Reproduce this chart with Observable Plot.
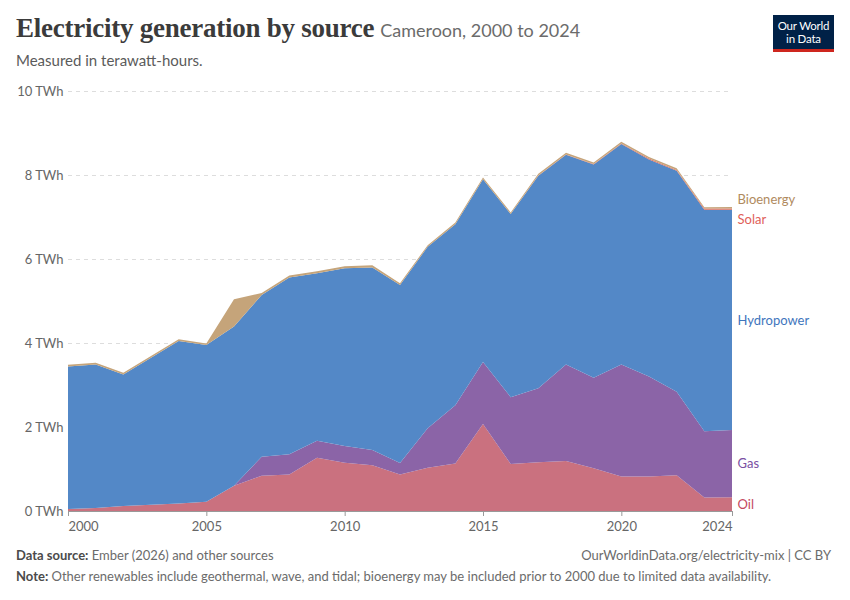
<!DOCTYPE html>
<html>
<head>
<meta charset="utf-8">
<script src="https://cdn.jsdelivr.net/npm/d3@7"></script>
<script src="https://cdn.jsdelivr.net/npm/@observablehq/plot@0.6"></script>
<style>
  html, body { margin: 0; padding: 0; background: #fff; }
  #wrap { position: relative; width: 850px; height: 600px; font-family: Lato, "Open Sans", sans-serif; overflow: hidden; }
  .title { position: absolute; left: 16px; top: 13px; white-space: nowrap; color: #3b3b3b; }
  .title .main { font-family: "Liberation Serif", "DejaVu Serif", serif; font-weight: bold; font-size: 27px; letter-spacing: -0.25px; }
  .title .sub { font-family: Lato, sans-serif; font-size: 18px; color: #6b6b6b; margin-left: 6px; }
  .subtitle { position: absolute; left: 16px; top: 51px; font-size: 15px; color: #5b5b5b; }
  .logo { position: absolute; left: 773px; top: 15px; width: 61px; height: 37px; background: #002147; color: #fff; font-size: 11.5px; line-height: 13px; text-align: center; box-sizing: border-box; padding-top: 4px; border-bottom: 3px solid #ce261e; letter-spacing: -0.2px; }
  #chart { position: absolute; left: 0; top: 80px; }
  .foot { position: absolute; font-size: 13px; color: #6b6b6b; white-space: nowrap; }
  .foot b { color: #4b4b4b; font-weight: bold; }
</style>
</head>
<body>
<div id="wrap">
  <div class="title"><span class="main">Electricity generation by source</span><span class="sub">Cameroon, 2000 to 2024</span></div>
  <div class="subtitle">Measured in terawatt-hours.</div>
  <div class="logo">Our World<br>in Data</div>
  <div id="chart"></div>
  <div class="foot" style="left:16px; top:547px;"><b>Data source:</b> Ember (2026) and other sources</div>
  <div class="foot" style="right:19px; top:547px;">OurWorldinData.org/electricity-mix | CC BY</div>
  <div class="foot" style="left:16px; top:568px;"><b>Note:</b> Other renewables include geothermal, wave, and tidal; bioenergy may be included prior to 2000 due to limited data availability.</div>
</div>
<script>
const years = [2000,2001,2002,2003,2004,2005,2006,2007,2008,2009,2010,2011,2012,2013,2014,2015,2016,2017,2018,2019,2020,2021,2022,2023,2024];
const oil   = [0.05,0.07,0.12,0.15,0.18,0.22,0.60,0.84,0.87,1.27,1.15,1.09,0.87,1.03,1.13,2.07,1.12,1.16,1.19,1.02,0.82,0.82,0.85,0.32,0.33];
const gas   = [0,0,0,0,0,0,0,0.45,0.48,0.40,0.40,0.36,0.27,0.94,1.39,1.48,1.59,1.76,2.30,2.15,2.67,2.38,1.99,1.58,1.60];
const hydro = [3.39,3.42,3.13,3.50,3.87,3.73,3.79,3.85,4.21,3.99,4.23,4.35,4.24,4.32,4.31,4.35,4.36,5.06,4.99,5.08,5.25,5.17,5.26,5.27,5.24];
const solar = [0,0,0,0,0,0,0,0,0,0,0,0,0,0,0,0,0,0.01,0.01,0.01,0.01,0.02,0.02,0.03,0.03];
const bio   = [0.04,0.04,0.04,0.04,0.04,0.04,0.65,0.05,0.05,0.05,0.05,0.05,0.04,0.04,0.04,0.04,0.04,0.04,0.04,0.04,0.04,0.04,0.04,0.03,0.04];

const sources = ["Oil","Gas","Hydropower","Solar","Bioenergy"];
const fills   = ["#ca717f","#8b64a7","#5388c7","#e0705f","#c5a47a"];
const labelColors = ["#c4495f","#7a50a3","#3f76bd","#e0605a","#b08a5e"];
const yTicks = [0,2,4,6,8,10];
const xTicks = [2000,2005,2010,2015,2020,2024];

const seriesVals = {Oil: oil, Gas: gas, Hydropower: hydro, Solar: solar, Bioenergy: bio};
const data = [];
for (const s of sources) years.forEach((yr, i) => data.push({year: yr, source: s, value: seriesVals[s][i]}));

// label positions at layer midpoints in the last year
const last = years.length - 1;
let cum = 0;
const labels = sources.map((s, k) => {
  const v = seriesVals[s][last];
  const mid = cum + v / 2;
  cum += v;
  return {source: s, year: years[last], mid, color: labelColors[k]};
});
const labelDy = {Oil: 0, Gas: 0, Hydropower: 0, Solar: 10, Bioenergy: -8};

const plot = Plot.plot({
  width: 850,
  height: 460,
  marginTop: 11,
  marginBottom: 29,
  marginLeft: 68,
  marginRight: 118,
  style: {fontFamily: "Lato, sans-serif", fontSize: "13px", color: "#666", background: "transparent"},
  x: {domain: [2000, 2024]},
  y: {domain: [0, 10]},
  color: {domain: sources, range: fills},
  marks: [
    Plot.ruleY(yTicks.filter(d => d > 0), {stroke: "#ddd", strokeDasharray: "4,4", strokeWidth: 1}),
    Plot.areaY(data, {x: "year", y: "value", z: "source", fill: "source", fillOpacity: 1, curve: "linear"}),
    Plot.ruleY([0], {stroke: "#999", strokeWidth: 1}),
    Plot.axisY({ticks: yTicks, tickSize: 0, tickPadding: 5, tickFormat: d => `${d} TWh`, label: null, fill: "#666", fontSize: 13}),
    Plot.axisX({ticks: xTicks, tickSize: 5, stroke: "#999", tickFormat: () => "", label: null}),
    Plot.text([xTicks[0]], {x: d => d, frameAnchor: "bottom", dy: 19, text: d => String(d), textAnchor: "start", fill: "#666", fontSize: 13}),
    Plot.text(xTicks.slice(1, -1), {x: d => d, frameAnchor: "bottom", dy: 19, text: d => String(d), textAnchor: "middle", fill: "#666", fontSize: 13}),
    Plot.text([xTicks[xTicks.length - 1]], {x: d => d, frameAnchor: "bottom", dy: 19, text: d => String(d), textAnchor: "end", fill: "#666", fontSize: 13}),
    ...labels.map(l => Plot.text([l], {x: "year", y: "mid", text: "source", textAnchor: "start", dx: 5, dy: labelDy[l.source], fill: l.color, fontSize: 13}))
  ]
});
document.getElementById("chart").appendChild(plot);
</script>
</body>
</html>
